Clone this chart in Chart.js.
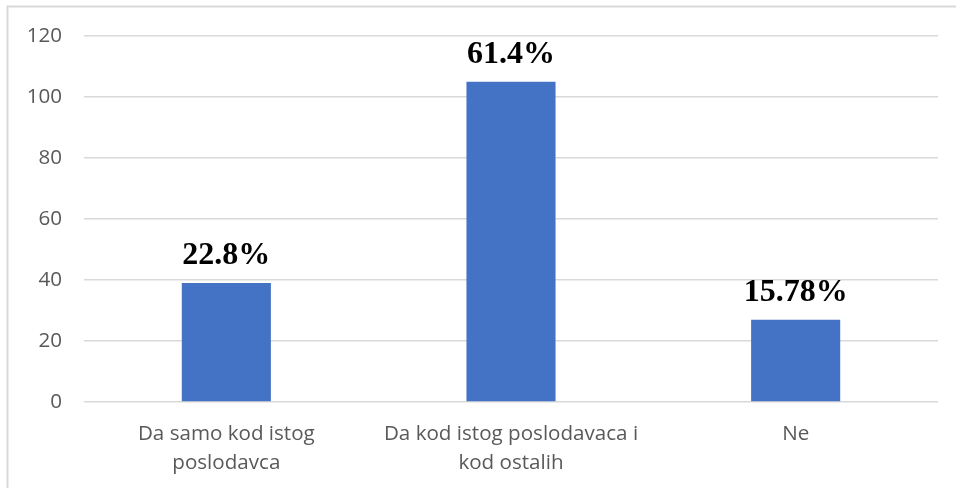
<!DOCTYPE html>
<html>
<head>
<meta charset="utf-8">
<script src="https://cdn.jsdelivr.net/npm/chart.js@4/dist/chart.umd.min.js"></script>
<style>
html,body{margin:0;padding:0;background:#fff;}
#wrap{position:relative;width:956px;height:488px;}
</style>
</head>
<body>
<div id="wrap"><canvas id="c" width="956" height="488"></canvas></div>
<script>
const categories = [["Da samo kod istog", "poslodavca"], ["Da kod istog poslodavaca i", "kod ostalih"], "Ne"];
const values = [39, 105, 27];
const percentLabels = ["22.8%", "61.4%", "15.78%"];
const yMin = 0, yMax = 120, yStep = 20;

const frame = {
  id: 'frame',
  beforeDraw(chart) {
    const ctx = chart.ctx;
    ctx.save();
    ctx.fillStyle = '#ffffff';
    ctx.fillRect(0, 0, chart.width, chart.height);
    ctx.strokeStyle = '#d9d9d9';
    ctx.lineWidth = 2;
    ctx.beginPath();
    ctx.moveTo(7.5, chart.height);
    ctx.lineTo(7.5, 6.5);
    ctx.lineTo(chart.width, 6.5);
    ctx.stroke();
    ctx.restore();
  }
};

const valueLabels = {
  id: 'valueLabels',
  afterDatasetsDraw(chart) {
    const ctx = chart.ctx;
    const meta = chart.getDatasetMeta(0);
    ctx.save();
    ctx.font = 'bold 32px "Liberation Serif", "Times New Roman", serif';
    ctx.fillStyle = '#000000';
    ctx.textAlign = 'center';
    ctx.textBaseline = 'alphabetic';
    meta.data.forEach((bar, i) => {
      ctx.fillText(percentLabels[i], bar.x, bar.y - 19);
    });
    ctx.restore();
  }
};

new Chart(document.getElementById('c'), {
  type: 'bar',
  data: {
    labels: categories,
    datasets: [{
      data: values,
      backgroundColor: '#4472c4',
      borderWidth: 0,
      categoryPercentage: 1,
      barPercentage: 0.313
    }]
  },
  options: {
    responsive: false,
    animation: false,
    devicePixelRatio: 1,
    layout: { padding: { top: 36, right: 18, left: 0, bottom: 0 } },
    plugins: { legend: { display: false }, tooltip: { enabled: false } },
    scales: {
      x: {
        grid: { display: false, drawTicks: false },
        border: { display: false },
        ticks: {
          color: '#595959',
          font: { family: '"Open Sans", sans-serif', size: 20.6, lineHeight: 1.42 },
          padding: 17,
          maxRotation: 0,
          autoSkip: false
        },
        afterFit(scale) { scale.height = 86; }
      },
      y: {
        min: yMin,
        max: yMax,
        ticks: {
          stepSize: yStep,
          color: '#595959',
          font: { family: '"Open Sans", sans-serif', size: 20.6 },
          padding: 22
        },
        grid: { color: '#d9d9d9', lineWidth: 1.5, drawTicks: false },
        border: { display: false },
        afterFit(scale) { scale.width = 84; }
      }
    }
  },
  plugins: [frame, valueLabels]
});
</script>
</body>
</html>
